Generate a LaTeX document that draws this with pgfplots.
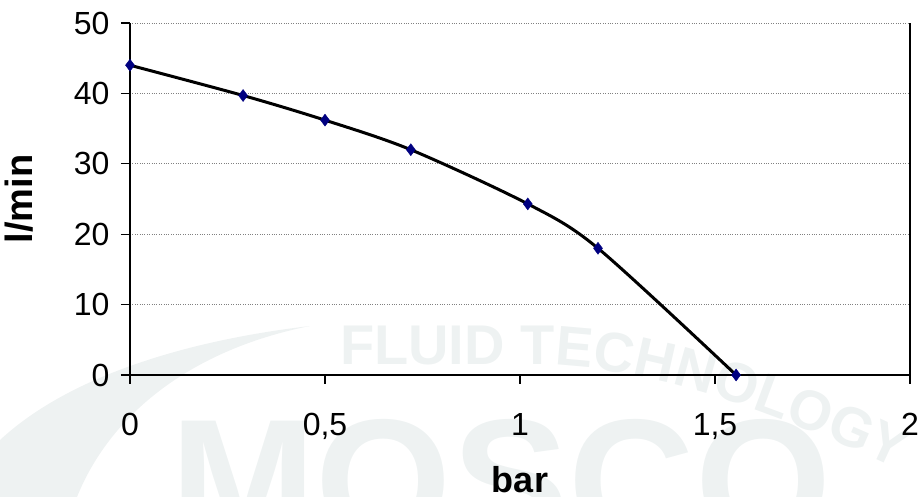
\documentclass[border=0pt]{standalone}
\usepackage{pgfplots}
\pgfplotsset{compat=1.18}
\usetikzlibrary{decorations.text}
\usepackage{fontspec}
\setmainfont{Liberation Sans}
\definecolor{wm}{RGB}{238,242,242}
\definecolor{mk}{RGB}{0,0,128}
\begin{document}
\begin{tikzpicture}[x=1pt,y=1pt]
\useasboundingbox (-130,-122) rectangle (793,375);
% watermark
\fill[wm] (-130,-65) .. controls (-60,0) and (60,35) .. (180,49) .. controls (60,25) and (-20,-40) .. (-53,-122) -- (-130,-122) -- cycle;
\node[wm, font=\fontsize{175}{175}\selectfont\bfseries, anchor=base west, inner sep=0pt] at (40,-166) {MOSCO};
\path[decorate, decoration={text along path, text align=left,
   text={|\fontsize{56}{56}\selectfont\bfseries\color{wm}|FLUID TECHNOLOGY}}]
   (210,10) -- (420,10) .. controls (520,6) and (640,-30) .. (820,-120);
\begin{axis}[
  at={(0,0)}, anchor=south west,
  scale only axis, width=780pt, height=352pt,
  xmin=0, xmax=2, ymin=0, ymax=50,
  xtick={0,0.5,...,2}, ytick={0,10,...,50},
  axis x line*=bottom, axis y line*=left,
  axis line style={black, line width=1.5pt, -},
  tick align=outside, major tick length=9pt,
  tick style={black, line width=1.2pt},
  ymajorgrids, major grid style={gray, dotted, line width=0.8pt},
  /pgf/number format/use comma,
  /pgf/number format/assume math mode=true,
  ticklabel style={font=\fontsize{32}{34}\selectfont},
  xticklabel style={yshift=-26pt},
  yticklabel style={xshift=-8pt},
  xlabel={\textbf{bar}}, ylabel={\textbf{l/min}},
  xlabel style={font=\fontsize{36}{38}\selectfont, yshift=-20pt},
  ylabel style={font=\fontsize{38}{40}\selectfont, yshift=34pt},
  clip=false,
]
\addplot[black, line width=3pt, smooth, tension=0.5] coordinates {
(0,44) (0.29,39.7) (0.5,36.2) (0.72,32.0) (1.02,24.3) (1.2,18.0) (1.554,0)
};
\addplot[only marks, mark=diamond*, mark size=6pt, mark options={fill=mk, draw=mk}] coordinates {
(0,44) (0.29,39.7) (0.5,36.2) (0.72,32.0) (1.02,24.3) (1.2,18.0) (1.554,0)
};
\draw[black, line width=1.5pt] (rel axis cs:1,0) -- (rel axis cs:1,1);
\draw[black, line width=1.2pt] (rel axis cs:1,0) -- ++(0,-9pt);
\end{axis}
\end{tikzpicture}
\end{document}
